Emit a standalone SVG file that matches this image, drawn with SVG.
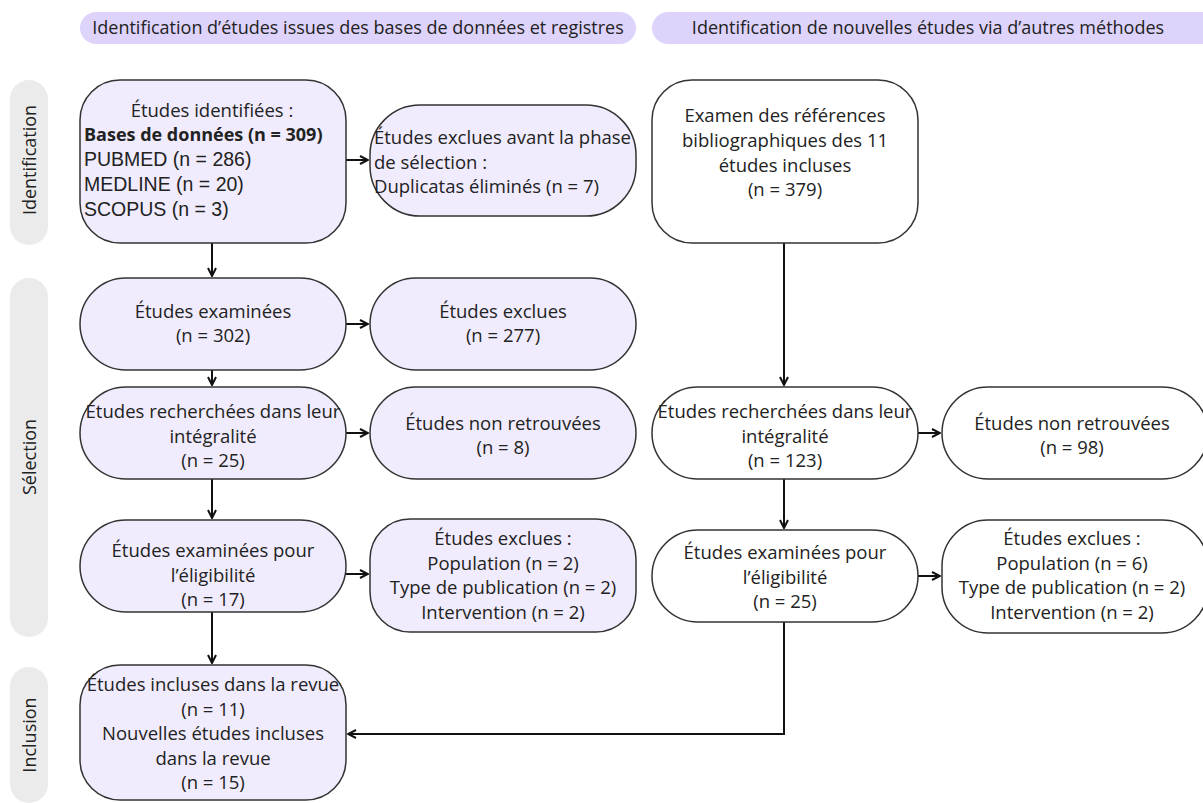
<svg xmlns="http://www.w3.org/2000/svg" width="1203" height="803" viewBox="0 0 1203 803">
<style>
  .t { font-family: "Open Sans", "DejaVu Sans", sans-serif; font-size: 18.5px; fill: #222; }
  .h { font-size: 18px; }
  .c { text-anchor: middle; }
  .a { font-family: "Liberation Sans", Arial, sans-serif; font-size: 19.5px; fill: #222; }
  .b { font-weight: bold; font-size: 18px; }
  .hdr { fill: #ddd3fb; }
  .side { fill: #ebebeb; }
  .p { fill: #f0ecfd; stroke: #333; stroke-width: 1.5; }
  .w { fill: #ffffff; stroke: #333; stroke-width: 1.5; }
  .con { fill: none; stroke: #111; stroke-width: 2; marker-end: url(#arr); }
</style>
<defs>
  <marker id="arr" viewBox="0 0 10 10" refX="9" refY="5" markerWidth="5" markerHeight="5" orient="auto" markerUnits="strokeWidth">
    <path d="M1,1 L9,5 L1,9" fill="none" stroke="#111" stroke-width="2"/>
  </marker>
</defs>
<rect width="1203" height="803" fill="#ffffff"/>

<g id="header-left">
  <rect class="hdr" x="80" y="12" width="556" height="32" rx="16"/>
  <text class="t h c" x="358" y="34">Identification d’études issues des bases de données et registres</text>
</g>
<g id="header-right">
  <rect class="hdr" x="652" y="12" width="570" height="32" rx="16"/>
  <text class="t h c" x="928" y="34">Identification de nouvelles études via d’autres méthodes</text>
</g>

<g id="side-identification">
  <rect class="side" x="10" y="80" width="38" height="165" rx="19"/>
  <text class="t h c" transform="translate(36,160) rotate(-90)">Identification</text>
</g>
<g id="side-selection">
  <rect class="side" x="10" y="278" width="38" height="359" rx="19"/>
  <text class="t h c" transform="translate(36,457) rotate(-90)">Sélection</text>
</g>
<g id="side-inclusion">
  <rect class="side" x="10" y="667" width="38" height="136" rx="19"/>
  <text class="t h c" transform="translate(36,735) rotate(-90)">Inclusion</text>
</g>

<g id="connectors">
  <path class="con" d="M212,243 V276"/>
  <path class="con" d="M346,160 H368"/>
  <path class="con" d="M346,324 H368"/>
  <path class="con" d="M212,370 V385"/>
  <path class="con" d="M346,433 H368"/>
  <path class="con" d="M212,479 V518"/>
  <path class="con" d="M346,574 H368"/>
  <path class="con" d="M212,612 V663"/>
  <path class="con" d="M784,243 V385"/>
  <path class="con" d="M918,433 H940"/>
  <path class="con" d="M784,479 V528"/>
  <path class="con" d="M918,576 H940"/>
  <path class="con" d="M784,622 V734 H348"/>
</g>

<g id="n-identified">
  <rect class="p" x="80" y="80" width="266" height="163" rx="40"/>
  <text class="t c" x="212" y="117">Études identifiées :</text>
  <text class="t b" x="84" y="141">Bases de données (n = 309)</text>
  <text class="a" x="84" y="166">PUBMED (n = 286)</text>
  <text class="a" x="84" y="191">MEDLINE (n = 20)</text>
  <text class="a" x="84" y="216">SCOPUS (n = 3)</text>
</g>
<g id="n-duplicates">
  <rect class="p" x="370" y="105" width="266" height="111" rx="50"/>
  <text class="t" x="374" y="144">Études exclues avant la phase</text>
  <text class="t" x="374" y="169">de sélection :</text>
  <text class="t" x="374" y="193">Duplicatas éliminés (n = 7)</text>
</g>
<g id="n-references">
  <rect class="w" x="652" y="80" width="266" height="163" rx="40"/>
  <text class="t c" x="785" y="122">Examen des références</text>
  <text class="t c" x="785" y="147">bibliographiques des 11</text>
  <text class="t c" x="785" y="172">études incluses</text>
  <text class="t c" x="785" y="196">(n = 379)</text>
</g>
<g id="n-screened">
  <rect class="p" x="80" y="278" width="266" height="92" rx="46"/>
  <text class="t c" x="213" y="318">Études examinées</text>
  <text class="t c" x="213" y="342">(n = 302)</text>
</g>
<g id="n-excluded">
  <rect class="p" x="370" y="278" width="266" height="92" rx="46"/>
  <text class="t c" x="503" y="318">Études exclues</text>
  <text class="t c" x="503" y="342">(n = 277)</text>
</g>
<g id="n-sought-left">
  <rect class="p" x="80" y="387" width="266" height="92" rx="46"/>
  <text class="t c" x="213" y="418">Études recherchées dans leur</text>
  <text class="t c" x="213" y="443">intégralité</text>
  <text class="t c" x="213" y="467">(n = 25)</text>
</g>
<g id="n-notretrieved-left">
  <rect class="p" x="370" y="387" width="266" height="92" rx="46"/>
  <text class="t c" x="503" y="430">Études non retrouvées</text>
  <text class="t c" x="503" y="454">(n = 8)</text>
</g>
<g id="n-sought-right">
  <rect class="w" x="652" y="387" width="266" height="92" rx="46"/>
  <text class="t c" x="785" y="418">Études recherchées dans leur</text>
  <text class="t c" x="785" y="443">intégralité</text>
  <text class="t c" x="785" y="467">(n = 123)</text>
</g>
<g id="n-notretrieved-right">
  <rect class="w" x="942" y="387" width="266" height="92" rx="46"/>
  <text class="t c" x="1072" y="430">Études non retrouvées</text>
  <text class="t c" x="1072" y="454">(n = 98)</text>
</g>
<g id="n-eligibility-left">
  <rect class="p" x="80" y="520" width="266" height="92" rx="46"/>
  <text class="t c" x="213" y="557">Études examinées pour</text>
  <text class="t c" x="213" y="582">l’éligibilité</text>
  <text class="t c" x="213" y="606">(n = 17)</text>
</g>
<g id="n-excl-left">
  <rect class="p" x="370" y="519" width="266" height="113" rx="40"/>
  <text class="t c" x="503" y="545">Études exclues :</text>
  <text class="t c" x="503" y="570">Population (n = 2)</text>
  <text class="t c" x="503" y="594">Type de publication (n = 2)</text>
  <text class="t c" x="503" y="619">Intervention (n = 2)</text>
</g>
<g id="n-eligibility-right">
  <rect class="w" x="652" y="530" width="266" height="92" rx="46"/>
  <text class="t c" x="785" y="559">Études examinées pour</text>
  <text class="t c" x="785" y="584">l’éligibilité</text>
  <text class="t c" x="785" y="608">(n = 25)</text>
</g>
<g id="n-excl-right">
  <rect class="w" x="942" y="520" width="266" height="113" rx="46"/>
  <text class="t c" x="1072" y="545">Études exclues :</text>
  <text class="t c" x="1072" y="570">Population (n = 6)</text>
  <text class="t c" x="1072" y="594">Type de publication (n = 2)</text>
  <text class="t c" x="1072" y="619">Intervention (n = 2)</text>
</g>
<g id="n-included">
  <rect class="p" x="80" y="665" width="266" height="135" rx="40"/>
  <text class="t c" x="213" y="691">Études incluses dans la revue</text>
  <text class="t c" x="213" y="716">(n = 11)</text>
  <text class="t c" x="213" y="740">Nouvelles études incluses</text>
  <text class="t c" x="213" y="765">dans la revue</text>
  <text class="t c" x="213" y="789">(n = 15)</text>
</g>
</svg>
